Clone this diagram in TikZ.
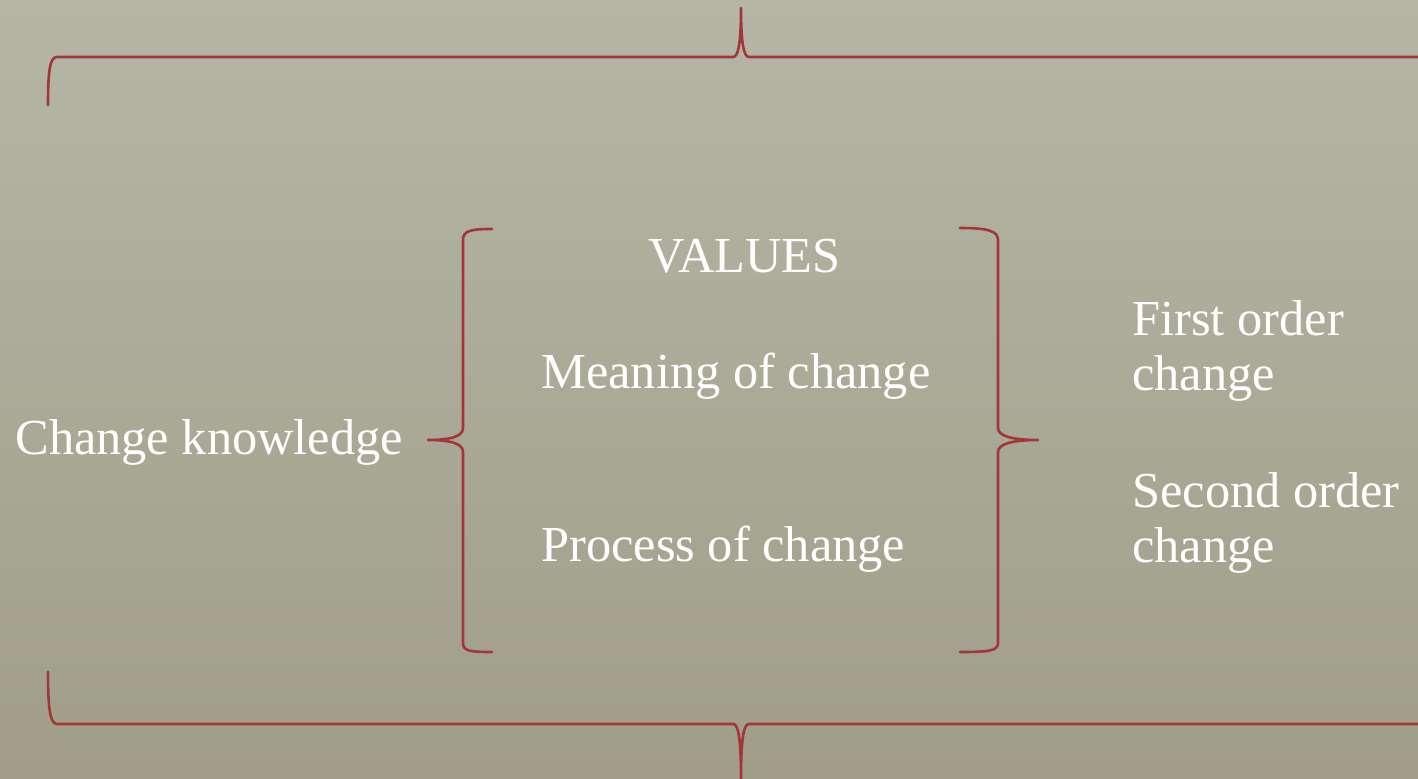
\documentclass[tikz,border=0pt]{standalone}
\usepackage{fontspec}
\setmainfont{Liberation Serif}
\definecolor{bgtop}{HTML}{B6B6A6}
\definecolor{bgbot}{HTML}{A09E89}
\definecolor{bracered}{HTML}{A3363A}
\begin{document}
\begin{tikzpicture}[x=0.5pt,y=-0.5pt,
  brace/.style={draw=bracered,line width=1.3pt,line join=round,line cap=round},
  lbl/.style={text=white,anchor=base west,inner sep=0pt,font=\fontsize{25.2}{30}\selectfont}]
\shade[top color=bgtop,bottom color=bgbot] (0,0) rectangle (1418,779);
\useasboundingbox (0,0) rectangle (1418,779);
% big top brace
\draw[brace] (48,105) .. controls (48,70) and (50,57) .. (57,57) -- (733,57)
  .. controls (738,57) and (741,45) .. (741,8)
  .. controls (741,45) and (744,57) .. (749,57) -- (1430,57);
% big bottom brace
\draw[brace] (48,672) .. controls (48,708) and (50,724) .. (57,724) -- (733,724)
  .. controls (738,724) and (741,736) .. (741,779)
  .. controls (741,736) and (744,724) .. (749,724) -- (1430,724);
% inner left brace
\draw[brace] (492,229) .. controls (470,229) and (463,231) .. (463,240) -- (463,428)
  .. controls (463,436) and (452,440) .. (428,440)
  .. controls (452,440) and (463,444) .. (463,452) -- (463,643)
  .. controls (463,651) and (470,652) .. (492,652);
% inner right brace
\draw[brace] (960,228) .. controls (988,228) and (998,231) .. (998,240) -- (998,428)
  .. controls (998,436) and (1012,440) .. (1038,440)
  .. controls (1012,440) and (998,444) .. (998,452) -- (998,643)
  .. controls (998,651) and (988,652) .. (960,652);
% texts
\node[lbl] (ck) at (15,455) {Change knowledge};
\node[lbl] (val) at (648,273) {VALUES};
\node[lbl] (mean) at (541,389) {Meaning of change};
\node[lbl] (proc) at (541,562) {Process of change};
\node[lbl] (fo) at (1132,336) {First order};
\node[lbl] (fo2) at (1132,391) {change};
\node[lbl] (so) at (1132,508) {Second order};
\node[lbl] (so2) at (1132,563) {change};
\end{tikzpicture}
\end{document}
